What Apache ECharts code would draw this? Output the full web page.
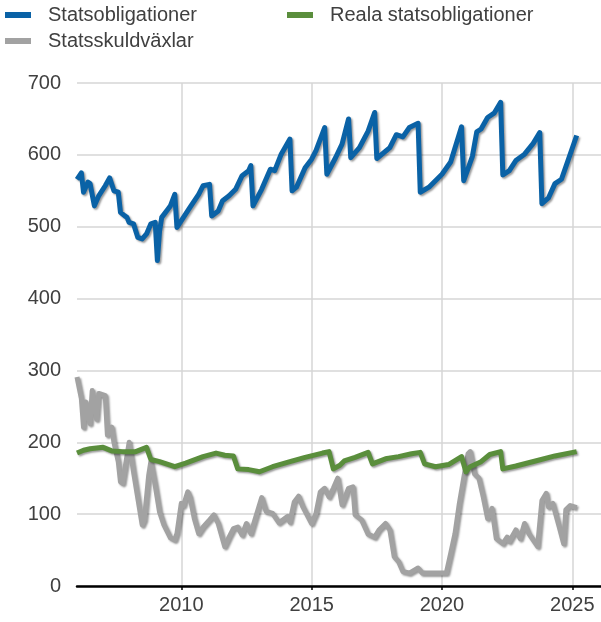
<!DOCTYPE html>
<html>
<head>
<meta charset="utf-8">
<script src="https://cdn.jsdelivr.net/npm/echarts@6/dist/echarts.min.js"></script>
<style>
html, body { margin: 0; padding: 0; background: #fff; }
#chart { width: 601px; height: 622px; }
</style>
</head>
<body>
<div id="chart"></div>
<script>
// Statsobligationer (blue)
var statsobligationer = [
    ['2006-01', 566], ['2006-03', 575], ['2006-04', 548], ['2006-06', 562], ['2006-07', 560],
    ['2006-09', 529], ['2006-11', 543], ['2007-02', 557], ['2007-04', 568], ['2007-06', 550],
    ['2007-08', 548], ['2007-09', 520], ['2007-11', 515], ['2007-12', 513], ['2008-01', 506],
    ['2008-03', 504], ['2008-05', 485], ['2008-07', 483], ['2008-09', 490], ['2008-11', 504],
    ['2009-01', 506], ['2009-02', 453], ['2009-03', 494], ['2009-04', 513], ['2009-07', 525],
    ['2009-08', 529], ['2009-10', 545], ['2009-11', 499], ['2010-02', 513], ['2010-05', 527],
    ['2010-07', 536], ['2010-09', 545], ['2010-11', 557], ['2011-02', 559], ['2011-03', 515],
    ['2011-06', 522], ['2011-08', 536], ['2011-11', 543], ['2012-02', 552], ['2012-05', 571],
    ['2012-08', 578], ['2012-09', 585], ['2012-10', 529], ['2013-02', 552], ['2013-06', 580],
    ['2013-08', 578], ['2013-11', 601], ['2014-03', 622], ['2014-04', 550], ['2014-06', 555],
    ['2014-10', 582], ['2015-01', 594], ['2015-03', 606], ['2015-07', 638], ['2015-08', 573],
    ['2015-12', 596], ['2016-03', 615], ['2016-06', 650], ['2016-07', 596], ['2016-11', 610],
    ['2017-03', 633], ['2017-06', 659], ['2017-07', 595], ['2018-01', 610], ['2018-04', 628],
    ['2018-07', 625], ['2018-10', 638], ['2019-02', 644], ['2019-03', 548], ['2019-07', 555],
    ['2020-01', 573], ['2020-05', 590], ['2020-10', 639], ['2020-11', 564], ['2021-03', 598],
    ['2021-05', 632], ['2021-07', 636], ['2021-10', 652], ['2022-01', 658], ['2022-04', 673],
    ['2022-05', 572], ['2022-08', 578], ['2022-11', 592], ['2023-03', 601], ['2023-07', 616],
    ['2023-10', 631], ['2023-11', 532], ['2024-02', 540], ['2024-05', 560], ['2024-08', 566],
    ['2024-11', 592], ['2025-03', 627]
];

// Reala statsobligationer (green)
var realaStatsobligationer = [
    ['2006-01', 185], ['2006-04', 189], ['2006-07', 191], ['2007-01', 193], ['2007-05', 188],
    ['2007-10', 187], ['2008-04', 187], ['2008-09', 193], ['2008-11', 176], ['2009-03', 173],
    ['2009-10', 166], ['2010-03', 171], ['2010-11', 180], ['2011-05', 185], ['2011-09', 182],
    ['2012-01', 181], ['2012-03', 163], ['2012-08', 162], ['2013-01', 159], ['2013-07', 166],
    ['2014-03', 173], ['2014-10', 179], ['2015-06', 185], ['2015-09', 187], ['2015-11', 163],
    ['2016-02', 168], ['2016-04', 174], ['2016-09', 179], ['2017-03', 186], ['2017-05', 170],
    ['2017-11', 177], ['2018-05', 180], ['2018-11', 184], ['2019-03', 186], ['2019-05', 170],
    ['2019-10', 166], ['2020-04', 169], ['2020-10', 180], ['2020-12', 159], ['2021-02', 166],
    ['2021-07', 173], ['2021-11', 183], ['2022-04', 187], ['2022-05', 163], ['2022-11', 167],
    ['2023-08', 174], ['2024-05', 181], ['2025-03', 187]
];

// Statsskuldväxlar (grey)
var statsskuldvaxlar = [
    ['2006-01', 291], ['2006-03', 261], ['2006-04', 221], ['2006-05', 256], ['2006-07', 226],
    ['2006-08', 272], ['2006-10', 232], ['2006-11', 268], ['2007-02', 265], ['2007-03', 210],
    ['2007-05', 221], ['2007-06', 200], ['2007-08', 173], ['2007-09', 145], ['2007-10', 143],
    ['2008-01', 200], ['2008-03', 159], ['2008-05', 122], ['2008-07', 85], ['2008-08', 92],
    ['2008-10', 154], ['2008-11', 173], ['2009-01', 140], ['2009-03', 103], ['2009-05', 85],
    ['2009-08', 67], ['2009-10', 64], ['2009-11', 73], ['2010-01', 115], ['2010-02', 112],
    ['2010-04', 131], ['2010-05', 124], ['2010-07', 94], ['2010-09', 73], ['2010-11', 82],
    ['2011-02', 92], ['2011-04', 99], ['2011-06', 87], ['2011-09', 55], ['2011-11', 68],
    ['2012-01', 80], ['2012-03', 82], ['2012-05', 71], ['2012-07', 87], ['2012-09', 73],
    ['2013-02', 123], ['2013-04', 104], ['2013-07', 101], ['2013-10', 88], ['2014-02', 97],
    ['2014-03', 89], ['2014-05', 117], ['2014-07', 125], ['2014-09', 110], ['2015-01', 87],
    ['2015-03', 101], ['2015-05', 131], ['2015-07', 136], ['2015-09', 124], ['2015-11', 136],
    ['2016-01', 150], ['2016-03', 113], ['2016-06', 136], ['2016-08', 138], ['2016-09', 99],
    ['2016-12', 92], ['2017-03', 72], ['2017-06', 68], ['2017-08', 78], ['2017-11', 87],
    ['2018-01', 78], ['2018-03', 41], ['2018-05', 34], ['2018-07', 20], ['2018-10', 18],
    ['2019-02', 25], ['2019-04', 18], ['2020-03', 18], ['2020-05', 45], ['2020-07', 73],
    ['2020-09', 115], ['2020-11', 150], ['2021-01', 184], ['2021-02', 187], ['2021-04', 156],
    ['2021-06', 150], ['2021-08', 124], ['2021-10', 94], ['2021-12', 108], ['2022-02', 66],
    ['2022-05', 59], ['2022-07', 68], ['2022-08', 62], ['2022-11', 78], ['2023-01', 66],
    ['2023-03', 87], ['2023-05', 73], ['2023-09', 55], ['2023-11', 119], ['2024-01', 129],
    ['2024-02', 110], ['2024-04', 115], ['2024-07', 82], ['2024-09', 59], ['2024-10', 106],
    ['2024-12', 112], ['2025-03', 109]
];

var xTickYears = [2010, 2015, 2020, 2025];

var txtColor = '#404040';
var fontName = 'Liberation Sans';

// 'yyyy-mm' -> decimal year for the value axis
function toYear(rows) {
    return rows.map(function (r) {
        var p = r[0].split('-');
        return [parseInt(p[0], 10) + (parseInt(p[1], 10) - 1) / 12, r[1]];
    });
}

function lineSerie(name, color, data, z) {
    return {
        name: name,
        type: 'line',
        data: toYear(data),
        z: z,
        showSymbol: false,
        symbol: 'none',
        animation: false,
        lineStyle: {
            color: color,
            width: 5,
            join: 'round',
            shadowColor: 'rgba(0,0,0,0.4)',
            shadowBlur: 2,
            shadowOffsetX: 1.5,
            shadowOffsetY: 1.5
        },
        itemStyle: { color: color }
    };
}

function legendAt(name, left, top) {
    return {
        data: [name],
        left: left,
        top: top,
        icon: 'rect',
        itemWidth: 26,
        itemHeight: 6,
        padding: 0,
        selectedMode: false,
        textStyle: {
            color: txtColor,
            fontSize: 20,
            fontFamily: fontName,
            padding: [0, 0, 0, 12]
        }
    };
}

var myChart = echarts.init(document.getElementById('chart'));
myChart.setOption({
    animation: false,
    backgroundColor: '#fff',
    legend: [
        legendAt('Statsobligationer', 5, 5),
        legendAt('Reala statsobligationer', 287, 5),
        legendAt('Statsskuldväxlar', 5, 31)
    ],
    grid: { left: 77, right: 0, top: 83, bottom: 36, containLabel: false },
    xAxis: {
        type: 'value',
        min: 2006,
        max: 2026.1,
        axisLine: { show: true, lineStyle: { color: '#000', width: 2.5 } },
        axisTick: { show: true, customValues: xTickYears, length: 4, lineStyle: { color: '#000', width: 1.5 } },
        axisLabel: {
            customValues: xTickYears,
            formatter: function (v) { return String(v); },
            color: txtColor,
            fontSize: 20,
            fontFamily: fontName,
            margin: 9
        },
        splitLine: { show: true, lineStyle: { color: '#d6d6d6', width: 1.5 } }
    },
    yAxis: {
        type: 'value',
        min: 0,
        max: 700,
        interval: 100,
        axisLine: { show: false },
        axisTick: { show: false },
        axisLabel: { color: txtColor, fontSize: 20, fontFamily: fontName, margin: 16 },
        splitLine: { show: true, lineStyle: { color: '#d6d6d6', width: 1.5 } }
    },
    series: [
        lineSerie('Statsobligationer', '#0a62a6', statsobligationer, 3),
        lineSerie('Reala statsobligationer', '#5a8e3c', realaStatsobligationer, 3),
        lineSerie('Statsskuldväxlar', '#a2a2a2', statsskuldvaxlar, 2)
    ]
});
</script>
</body>
</html>
